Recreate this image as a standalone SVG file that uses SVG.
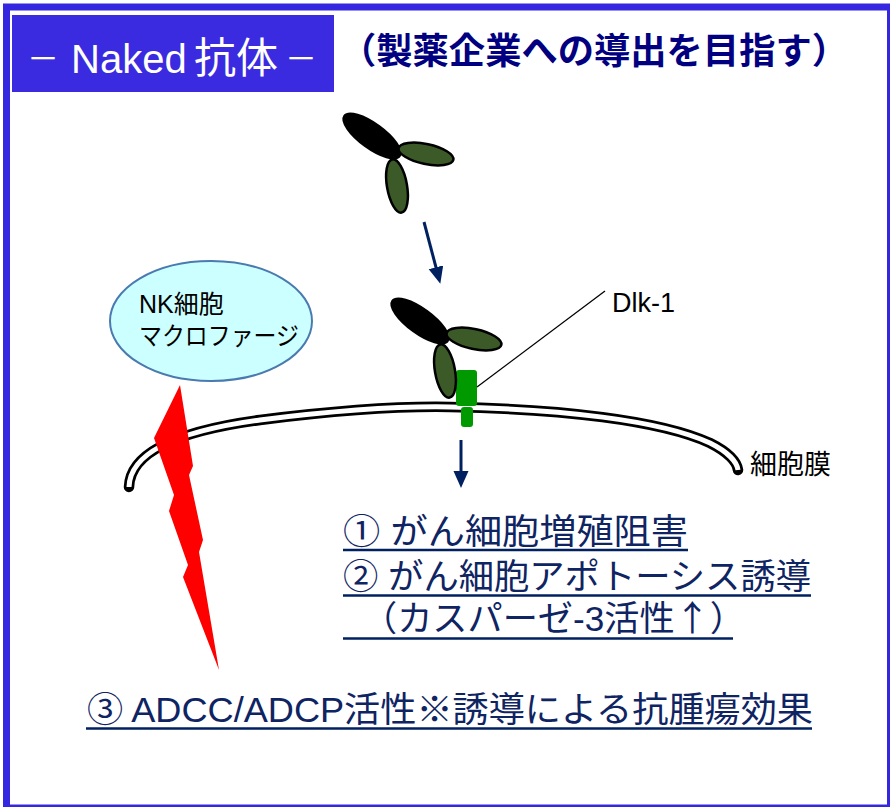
<svg xmlns="http://www.w3.org/2000/svg" width="890" height="807" viewBox="0 0 890 807">
  <style>
    .jp { font-family: "Liberation Sans", "Noto Sans CJK JP", sans-serif; }
    .cjk { font-family: "Noto Sans CJK JP", sans-serif; }
    .fab { fill: #3c5a27; stroke: #000; stroke-width: 2.5; }
    .fc { fill: #000; stroke: #000; stroke-width: 2.5; }
    .item { font-size: 35px; fill: #0f2462; }
    .uline { stroke: #002060; stroke-width: 2.5; }
    .arrow { stroke: #002060; stroke-width: 3; fill: none; }
  </style>
  <defs>
    <marker id="head" markerUnits="userSpaceOnUse" markerWidth="20" markerHeight="16" refX="8" refY="7.5" orient="auto">
      <path d="M0,0 L17,7.5 L0,15 Z" fill="#002060"/>
    </marker>
    <path id="mem-curve" fill="none" d="M129,487 C130,455 170,432 260,420 C340,410 400,406 450,407 C560,409 660,420 710,443 C728,452 737,462 738,470"/>
    <!-- Y-shaped antibody: heavy/light chain arms and stem -->
    <g id="antibody">
      <ellipse class="fc" cx="372" cy="136" rx="34" ry="12" transform="rotate(36 372 136)"/>
      <ellipse class="fab" cx="426" cy="154" rx="28" ry="10" transform="rotate(12 426 154)"/>
      <ellipse class="fab" cx="397" cy="186" rx="10" ry="27" transform="rotate(-10 397 186)"/>
    </g>
  </defs>

  <rect id="frame" x="6.5" y="7" width="884" height="801" fill="#fff" stroke="#3526df" stroke-width="7"/>

  <g id="title">
    <rect x="12" y="15" width="322" height="77" fill="#3a2ae0"/>
    <text class="jp" y="73" font-size="40" fill="#fff"><tspan x="27" y="70" font-size="32">－</tspan><tspan y="73"> </tspan><tspan x="71" y="73">Naked</tspan><tspan x="194" font-size="42">抗体</tspan><tspan x="285" y="70" font-size="32">－</tspan></text>
  </g>
  <g id="subtitle">
    <text class="jp" x="340" y="64" font-size="36" font-weight="bold" fill="#000080" textLength="508" lengthAdjust="spacingAndGlyphs">（製薬企業への導出を目指す）</text>
  </g>

  <g id="membrane">
    <use href="#mem-curve" stroke="#000" stroke-width="10.5" stroke-linecap="round"/>
    <use href="#mem-curve" stroke="#fff" stroke-width="5"/>
    <text class="jp" x="750" y="474" font-size="27" fill="#000">細胞膜</text>
  </g>

  <g id="effector-cell">
    <ellipse cx="211" cy="321" rx="101" ry="60" fill="#ccffff" stroke="#4a7ab0" stroke-width="2"/>
    <text class="jp" x="139" y="313" font-size="25" fill="#000">NK細胞</text>
    <text class="jp" x="139" y="345" font-size="25" fill="#000" textLength="160" lengthAdjust="spacingAndGlyphs">マクロファージ</text>
  </g>

  <g id="cytotoxic-bolt">
    <polygon fill="#ff0000" points="180,385 154,438 174,495 169,511 188,565 183,577 219,670 199,552 203,540 189,475 193,466"/>
  </g>

  <g id="antibody-free">
    <use href="#antibody"/>
  </g>

  <g id="dlk1">
    <rect x="456" y="370" width="21" height="36" rx="3" fill="#009a00"/>
    <rect x="461" y="407" width="12" height="20" rx="3" fill="#009a00"/>
    <text class="jp" x="612" y="312" font-size="27" fill="#000">Dlk-1</text>
  </g>

  <g id="antibody-bound">
    <use href="#antibody" transform="translate(48 185)"/>
  </g>

  <g id="connectors">
    <line class="arrow" x1="424" y1="222" x2="438" y2="275" marker-end="url(#head)"/>
    <line class="arrow" x1="461" y1="440" x2="461" y2="479" marker-end="url(#head)"/>
    <line x1="477" y1="387" x2="605" y2="291" stroke="#000" stroke-width="1.3"/>
  </g>

  <g id="outcomes">
    <text class="jp item" x="343" y="544" textLength="345" lengthAdjust="spacingAndGlyphs">① がん細胞増殖阻害</text>
    <line class="uline" x1="343" y1="550" x2="688" y2="550"/>
    <text class="jp item" x="343" y="589" textLength="468" lengthAdjust="spacingAndGlyphs">② がん細胞アポトーシス誘導</text>
    <line class="uline" x1="343" y1="595.5" x2="811" y2="595.5"/>
    <text class="jp item" x="362" y="631" textLength="383" lengthAdjust="spacingAndGlyphs">（カスパーゼ-3活性<tspan class="cjk">↑</tspan>）</text>
    <line class="uline" x1="343" y1="638.5" x2="733" y2="638.5"/>
    <text class="jp item" x="87" y="722" textLength="726" lengthAdjust="spacingAndGlyphs">③ ADCC/ADCP活性※誘導による抗腫瘍効果</text>
    <line class="uline" x1="86" y1="728.5" x2="812" y2="728.5"/>
  </g>
</svg>
